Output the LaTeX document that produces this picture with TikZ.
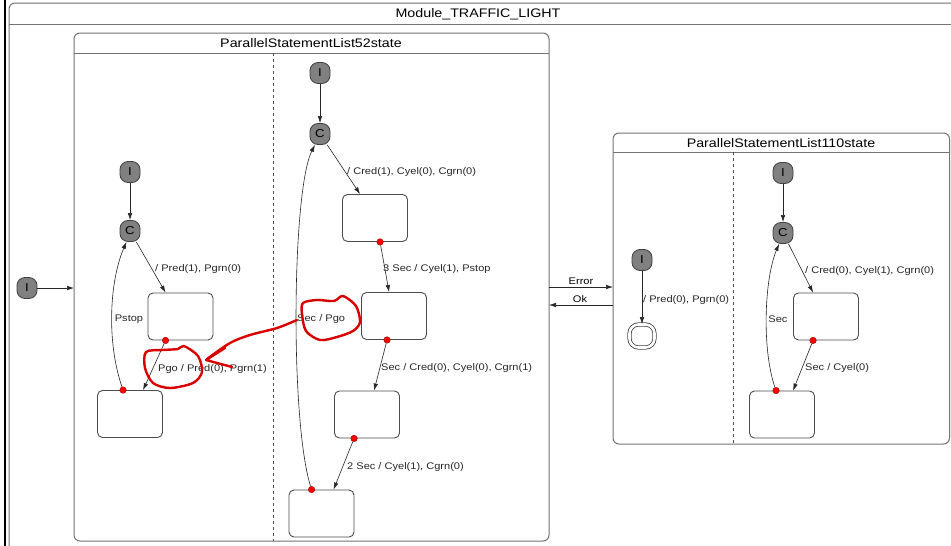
\documentclass[tikz,border=0pt]{standalone}
\usepackage{fontspec}
\setmainfont[FakeStretch=1.15]{Liberation Sans}
\usepackage{tikz}
\usetikzlibrary{arrows.meta, positioning, calc}

\newcommand{\lblfont}{\fontsize{9.6}{11}\selectfont}
\newcommand{\ttlfont}{\fontsize{12.4}{14}\selectfont}
\newcommand{\psfont}{\fontsize{11.5}{13}\selectfont}

\begin{document}
\begin{tikzpicture}[x=1pt, y=-1pt,
    pseudo/.style={draw=black!75, fill=black!50, rounded corners=8pt,
        minimum width=20pt, minimum height=21pt, inner sep=0pt,
        line width=0.8pt, font=\psfont},
    statebox/.style={draw=black!70, rounded corners=5pt, minimum width=65pt,
        minimum height=47pt, inner sep=0pt, line width=0.9pt, fill=white},
    finalst/.style={draw=black!75, double=white, double distance=2.6pt,
        rounded corners=9pt, minimum width=25pt, minimum height=23pt,
        line width=0.8pt},
    dot/.style={circle, fill=red, draw=red!60!black, inner sep=0pt,
        minimum size=6.5pt, line width=0.4pt},
    tr/.style={-{Latex[length=7pt, width=4.5pt]}, black!85, line width=0.6pt},
    lbl/.style={font=\lblfont, anchor=west, inner sep=1pt, text=black!85},
    region/.style={draw=black!55, rounded corners=6pt, line width=1pt},
    redmark/.style={red!85!black, line width=2.4pt, line cap=round,
        line join=round}
]
    \useasboundingbox (0,0) rectangle (951,546);
    \clip (0,0) rectangle (951,546);
    \fill[white] (0,0) rectangle (951,546);

    % ============================================================
    % MODULE FRAME
    % ============================================================
    \draw[line width=1.5pt] (5,0) -- (5,546);
    \draw[region] (9,3) rectangle (960,560);
    \draw[black!55, line width=1pt] (9,24) -- (951,24);
    \node[font=\ttlfont] (modttl) at (478,14) {Module\_TRAFFIC\_LIGHT};

    % ============================================================
    % PARALLEL STATE 52
    % ============================================================
    \draw[region] (74,33) rectangle (549,541);
    \draw[black!55, line width=1pt] (74,53) -- (549,53);
    \node[font=\ttlfont] (ttl52) at (311,43) {ParallelStatementList52state};
    \draw[black!70, dashed, line width=0.7pt] (273,53) -- (273,541);

    % ============================================================
    % PARALLEL STATE 110
    % ============================================================
    \draw[region] (613,133) rectangle (949.5,444);
    \draw[black!55, line width=1pt] (613,152) -- (949.5,152);
    \node[font=\ttlfont] (ttl110) at (781,143) {ParallelStatementList110state};
    \draw[black!70, dashed, line width=0.7pt] (733,152) -- (733,444);

    % ============================================================
    % MODULE INITIAL STATE
    % ============================================================
    \node[pseudo] (I0) at (27,288) {I};
    \coordinate (in52) at (74,288);
    \draw[tr] (I0) -- (in52);

    % Error / Ok between the two parallel states
    \coordinate (err0) at (549,287);
    \coordinate (err1) at (613,287);
    \coordinate (ok0) at (613,305);
    \coordinate (ok1) at (549,305);
    \draw[tr] (err0) -- (err1);
    \draw[tr] (ok0) -- (ok1);
    \node[font=\lblfont, inner sep=0pt] (lerr) at (581,281) {Error};
    \node[font=\lblfont, inner sep=0pt] (lok) at (580,299) {Ok};

    % ============================================================
    % PEDESTRIAN REGION (LEFT)
    % ============================================================
    \node[pseudo] (I1) at (130,172) {I};
    \node[pseudo] (C1) at (130,231) {C};
    \node[statebox] (A1) at (180.5,316.5) {};
    \node[statebox] (B1) at (130,414) {};
    \node[dot] (a1o) at ([xshift=18pt]A1.south west) {};
    \node[dot] (b1o) at ([xshift=26pt]B1.north west) {};

    \draw[tr] (I1) -- (C1);
    \draw[tr] (C1) -- ([xshift=18pt]A1.north west);
    \draw[tr] (a1o) -- ([xshift=46pt]B1.north west);
    \draw[tr] (b1o) .. controls (106,340) and (110,280) .. (C1.-108);

    \node[lbl] (l1a) at (154,269) {/ Pred(1), Pgrn(0)};
    \node[lbl] (l1b) at (157,369) {Pgo / Pred(0), Pgrn(1)};
    \node[font=\lblfont, text=black!85] (l1c) at (129,319) {Pstop};

    % ============================================================
    % CAR REGION (MIDDLE)
    % ============================================================
    \node[pseudo] (I2) at (320,73) {I};
    \node[pseudo] (C2) at (320,134) {C};
    \node[statebox] (D2) at (375,218) {};
    \node[statebox] (E2) at (394,316) {};
    \node[statebox] (F2) at (367,414.5) {};
    \node[statebox] (G2) at (321.5,513.5) {};
    \node[dot] (d2o) at ([xshift=38pt]D2.south west) {};
    \node[dot] (e2o) at ([xshift=26pt]E2.south west) {};
    \node[dot] (f2o) at ([xshift=20pt]F2.south west) {};
    \node[dot] (g2o) at ([xshift=23pt]G2.north west) {};

    \draw[tr] (I2) -- (C2);
    \draw[tr] (C2) -- ([xshift=18pt]D2.north west);
    \draw[tr] (d2o) -- ([xshift=28pt]E2.north west);
    \draw[tr] (e2o) -- ([xshift=40pt]F2.north west);
    \draw[tr] (f2o) -- ([xshift=45pt]G2.north west);
    \draw[tr] (g2o) .. controls (290,420) and (292,190) .. (C2.-115);

    \node[lbl] (l2a) at (346,172) {/ Cred(1), Cyel(0), Cgrn(0)};
    \node[lbl] (l2b) at (382,269) {3 Sec / Cyel(1), Pstop};
    \node[lbl] (l2c) at (380,368) {Sec / Cred(0), Cyel(0), Cgrn(1)};
    \node[lbl] (l2d) at (346,467) {2 Sec / Cyel(1), Cgrn(0)};
    \node[lbl] (l2e) at (296,319) {Sec / Pgo};

    % ============================================================
    % ERROR STATE: PEDESTRIAN REGION
    % ============================================================
    \node[pseudo] (I3) at (642,260) {I};
    \node[finalst] (F3) at (642,336) {};
    \draw[tr] (I3) -- (F3);
    \node[lbl] (l3a) at (642,300) {/ Pred(0), Pgrn(0)};

    % ============================================================
    % ERROR STATE: CAR REGION
    % ============================================================
    \node[pseudo] (I4) at (783,173) {I};
    \node[pseudo] (C4) at (783,233) {C};
    \node[statebox] (H4) at (826,316.5) {};
    \node[statebox] (J4) at (782,414.5) {};
    \node[dot] (h4o) at ([xshift=20pt]H4.south west) {};
    \node[dot] (j4o) at ([xshift=27pt]J4.north west) {};

    \draw[tr] (I4) -- (C4);
    \draw[tr] (C4) -- ([xshift=20pt]H4.north west);
    \draw[tr] (h4o) -- ([xshift=44pt]J4.north west);
    \draw[tr] (j4o) .. controls (762,350) and (764,280) .. (C4.-110);

    \node[lbl] (l4a) at (804,271) {/ Cred(0), Cyel(1), Cgrn(0)};
    \node[lbl] (l4b) at (804,368) {Sec / Cyel(0)};
    \node[font=\lblfont, text=black!85] (l4c) at (778,319) {Sec};

    % ============================================================
    % RED HAND MARKS
    % ============================================================
    \draw[redmark] plot[smooth cycle] coordinates {(303,303) (317,300)
        (334,301) (343,296) (356,306) (360,322) (353,331) (337,337)
        (320,340) (306,331) (302,314)};
    \draw[redmark] plot[smooth] coordinates {(297,320) (277,328) (250,335)
        (230,343) (207,359)};
    \draw[redmark] (225,348) -- (206,360) -- (232,367);
    \draw[redmark] plot[smooth cycle] coordinates {(146,352) (163,350)
        (178,349) (184,346) (198,356) (202,372) (193,383) (170,388)
        (153,383) (145,368)};

\end{tikzpicture}
\end{document}
